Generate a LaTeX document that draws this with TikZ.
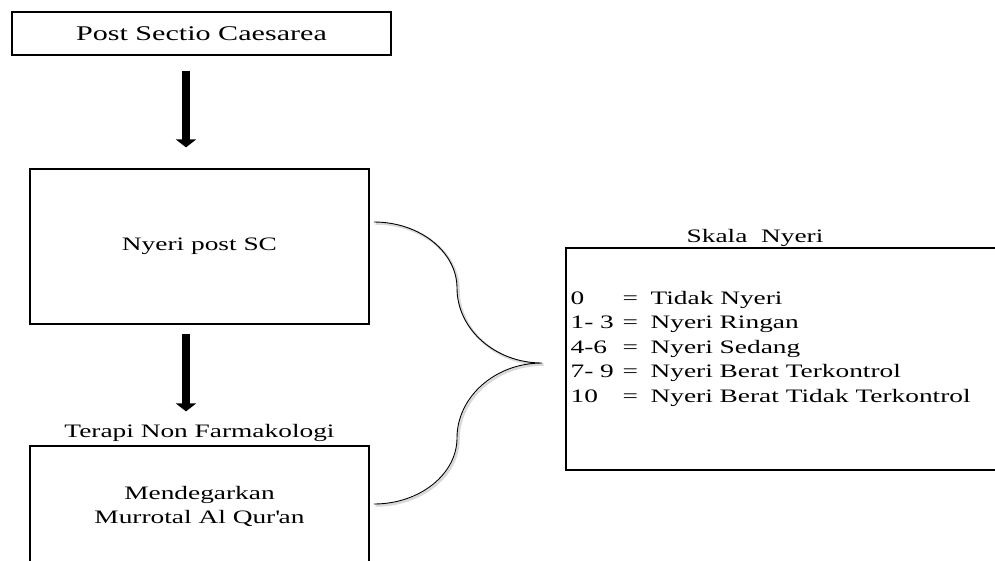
\documentclass[tikz,border=0pt]{standalone}
\usepackage{fontspec}
\setmainfont{Liberation Serif}[FakeStretch=1.44]
\usetikzlibrary{arrows.meta}

\begin{document}
\begin{tikzpicture}[x=1pt, y=-1pt,
                    line width=1.2pt,
                    font=\fontsize{19pt}{24pt}\selectfont,
                    ]
    \tikzstyle{box}=[draw, rectangle, inner sep=0pt, align=center]
    \tikzstyle{txt}=[inner sep=0pt]
    \tikzstyle{bigarrow}=[line width=7.5pt, -{Triangle[width=20pt,length=8pt]}]
    \tikzstyle{brace}=[line width=0.9pt]
    \tikzstyle{braceshadow}=[gray!30, line width=2.5pt, transform canvas={xshift=1.5pt,yshift=-1.5pt}]

    \useasboundingbox (0,0) rectangle (995,560);
    \clip (0,0) rectangle (995,560);

    % left column
    \node[box, minimum width=379pt, minimum height=43pt,
          font=\fontsize{20.9pt}{26pt}\selectfont] (psc) at (201.5,33.5) {Post Sectio Caesarea};
    \node[box, minimum width=339pt, minimum height=155pt] (nyeri) at (199.5,246.5) {Nyeri post SC};
    \node[txt] (terapi) at (199.5,433) {Terapi Non Farmakologi};
    \node[box, minimum width=339pt, minimum height=120pt] (murrotal) at (199.5,506)
          {Mendegarkan\\Murrotal Al Qur\textquotesingle an};

    \draw[bigarrow, shorten <=15pt, shorten >=21pt] ([xshift=-15.5pt]psc.south) -- ([xshift=-13.5pt]nyeri.north);
    \draw[bigarrow, shorten <=9pt, shorten >=34pt] ([xshift=-13.5pt]nyeri.south) -- ([xshift=-13.5pt]murrotal.north);

    % skala box
    \node[box, minimum width=440pt, minimum height=222pt] (skala) at (786,359) {};
    \node[txt, anchor=base] (skalatitle) at (755,242) {Skala\ \ Nyeri};
    \foreach \num/\desc/\y [count=\i] in {0/Tidak Nyeri/304,
                                          1- 3/Nyeri Ringan/328.5,
                                          4-6/Nyeri Sedang/353,
                                          7- 9/Nyeri Berat Terkontrol/377.5,
                                          10/Nyeri Berat Tidak Terkontrol/402}
    {
        \node[txt, anchor=base west] (num\i) at (570,\y) {\num};
        \node[txt, anchor=base west] (eq\i) at (622,\y) {=};
        \node[txt, anchor=base west] (desc\i) at (650,\y) {\desc};
    }

    % brace
    \coordinate (btop) at (374,222);
    \coordinate (bbot) at (374,504);
    \coordinate (tip) at (542,363);
    \foreach \st in {braceshadow, brace}
        \draw[\st] (btop) .. controls (420,222) and (457,252) .. (457,288)
                          .. controls (457,329) and (495,363) .. (tip)
                          .. controls (495,363) and (457,397) .. (457,438)
                          .. controls (457,474) and (420,504) .. (bbot);
\end{tikzpicture}
\end{document}
